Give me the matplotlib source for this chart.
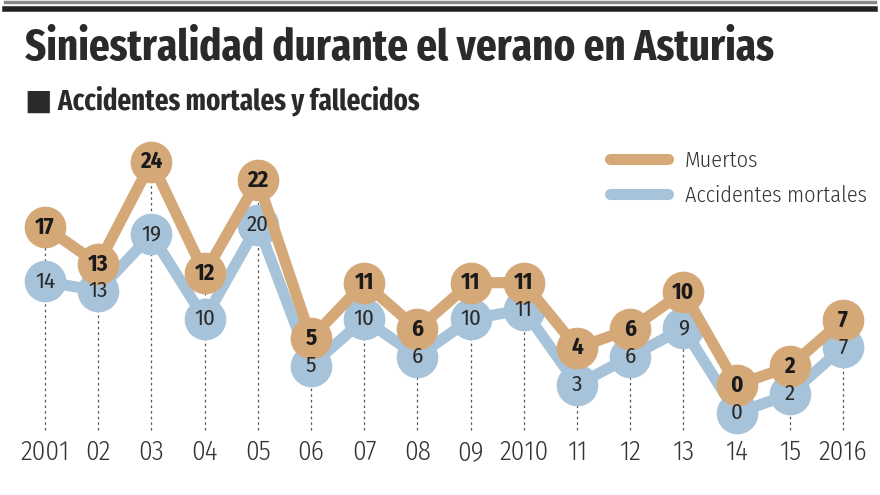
import matplotlib
matplotlib.use("Agg")
import matplotlib.pyplot as plt
from matplotlib.lines import Line2D

years = list(range(2001, 2017))
year_labels = ["2001", "02", "03", "04", "05", "06", "07", "08",
               "09", "2010", "11", "12", "13", "14", "15", "2016"]
muertos = [17, 13, 24, 12, 22, 5, 11, 6, 11, 11, 4, 6, 10, 0, 2, 7]
accidentes = [14, 13, 19, 10, 20, 5, 10, 6, 10, 11, 3, 6, 9, 0, 2, 7]

TAN = "#D5A878"
BLUE = "#A7C3DA"
COND = ["Fira Sans Condensed", "DejaVu Sans"]
XCOND = ["Fira Sans Extra Condensed", "DejaVu Sans"]

fig = plt.figure(figsize=(8.8, 4.95), dpi=100)

# the two series sit on slightly different vertical scales, as in the print graphic;
# ax_a only carries the scale of "accidentes", everything is drawn on ax
ax_a = fig.add_axes([0, 0, 1, 1])
ax_a.set_xlim(2000.154, 2016.695)
ax_a.set_ylim(-8.72, 43.94)
ax_a.axis("off")

ax = fig.add_axes([0, 0, 1, 1])
ax.axis("off")
ax.patch.set_alpha(0)
ta = ax_a.transData

# dotted guides
for x, m in zip(years, muertos):
    ax.plot([x, x], [-4.84, m], color="#555555", lw=0.9,
            ls=(0, (2, 2.5)), zorder=1)

ax.plot(years, accidentes, color=BLUE, lw=8, solid_joinstyle="round",
        solid_capstyle="round", zorder=2, transform=ta)
ax.plot(years, accidentes, "o", color=BLUE, ms=29, zorder=3, transform=ta)
ax.plot(years, muertos, color=TAN, lw=8, solid_joinstyle="round",
        solid_capstyle="round", zorder=4)
ax.plot(years, muertos, "o", color=TAN, ms=29, zorder=5)

for x, v in zip(years, accidentes):
    ax.text(x, v, str(v), ha="center", va="center", fontsize=16.5,
            family=COND, color="#2b2b2b", zorder=6, transform=ta)
for x, v in zip(years, muertos):
    ax.text(x, v, str(v), ha="center", va="center", fontsize=16.5,
            family=COND, weight="bold", color="#1a1a1a", zorder=7)

for x, lab in zip(years, year_labels):
    ax.text(x, -7.2, lab, ha="center", va="center", fontsize=19.5,
            family=COND, weight=300, color="#333333")

ax.set_xlim(2000.154, 2016.695)
ax.set_ylim(-11.83, 41.4)

handles = [Line2D([], [], color=TAN, lw=8, solid_capstyle="round"),
           Line2D([], [], color=BLUE, lw=8, solid_capstyle="round")]
ax.legend(handles, ["Muertos", "Accidentes mortales"], loc="upper right",
          bbox_to_anchor=(0.995, 0.715), frameon=False, handlelength=2.6,
          handletextpad=0.75, labelspacing=0.63, borderaxespad=0,
          prop={"family": COND, "size": 16, "weight": 300},
          labelcolor="#333333")

# top rules
fig.add_artist(Line2D([0.006, 0.994], [0.9965, 0.9965], color="#888888", lw=2.5))
fig.add_artist(Line2D([0.006, 0.994], [0.981, 0.981], color="#222222", lw=4))

fig.text(0.028, 0.902, "Siniestralidad durante el verano en Asturias",
         fontsize=32, weight="bold", family=XCOND, color="#2a2a2a",
         va="center", ha="left")
fig.text(0.028, 0.797, "\u25a0 Accidentes mortales y fallecidos",
         fontsize=21, weight="bold", family=XCOND, color="#2a2a2a",
         va="center", ha="left")

fig.savefig("out.png", dpi=100)
